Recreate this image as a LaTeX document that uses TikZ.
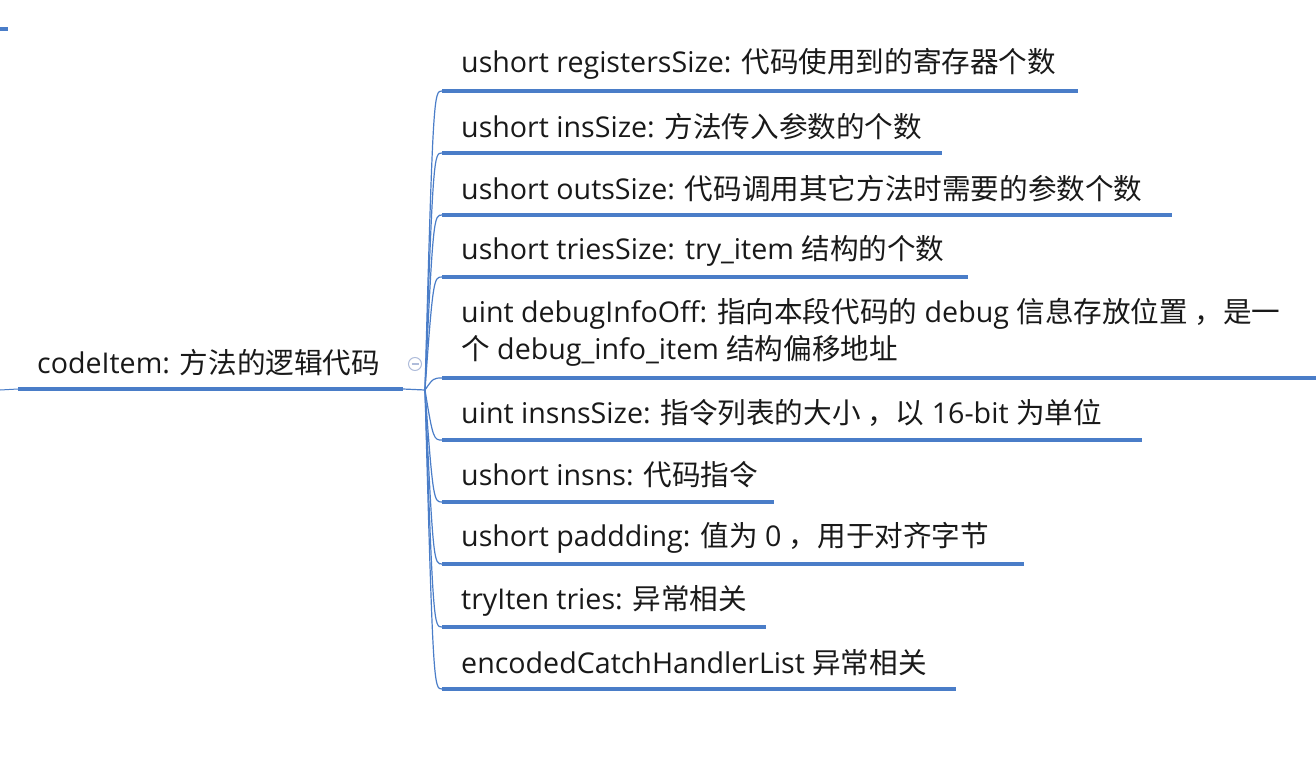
\documentclass[tikz,border=0pt]{standalone}
\usepackage{fontspec}
\setmainfont{Open Sans}
\newfontfamily\cjk{Noto Sans CJK SC}
\newcommand\zh[1]{{\cjk #1}}
\usetikzlibrary{calc}
\definecolor{mmblue}{RGB}{74,125,200}
\definecolor{mmlight}{RGB}{175,188,218}
\begin{document}
\begin{tikzpicture}[x=1pt,y=-1pt,
  txt/.style={anchor=west,inner sep=0pt,font=\fontsize{28.6}{37}\selectfont,text=black!90},
  uline/.style={draw=mmblue,line width=4pt},
  branch/.style={draw=mmblue,line width=1.2pt},
]
\useasboundingbox (0,0) rectangle (1316,778);
% stray marks at the left edge
\draw[mmblue,line width=4pt] (0,29) -- (8,29);
% parent
\node[txt] (p) at (37,363) {codeItem: \zh{方法的逻辑代码}};
\coordinate (lin) at (0,390);
\coordinate (ps) at (18,389);
\coordinate (pe) at (403,389);
\coordinate (o) at (425,390);
\draw[branch,line width=1pt] (lin) -- (ps);
\draw[uline] (ps) -- (pe);
\draw[branch] (pe) -- (o);
\node[circle,draw=mmlight,line width=1pt,minimum size=13pt,inner sep=0pt] (col) at (415,364) {};
\draw[mmlight,line width=1.2pt] ($(col)+(-3.5,0)$) -- ($(col)+(3.5,0)$);
% children
\foreach \i/\yu/\xe in {1/91/1078,2/153/942,3/215/1172,4/277/968,
  5/378/1316,6/440/1142,7/502/774,8/564/1024,9/627/766,10/689/956}{
  \coordinate (s\i) at (442,\yu);
  \coordinate (e\i) at (\xe,\yu);
  \draw[uline] (s\i) -- (e\i);
  \draw[branch] (o) .. controls ($(s\i)+(-9,0)$) and ($(s\i)+(-8,0)$) .. (s\i);
}
\node[txt] (c1) at (461,64) {ushort registersSize: \zh{代码使用到的寄存器个数}};
\node[txt] (c2) at (461,127) {ushort insSize: \zh{方法传入参数的个数}};
\node[txt] (c3) at (461,189) {ushort outsSize: \zh{代码调用其它方法时需要的参数个数}};
\node[txt] (c4) at (461,251) {ushort triesSize: try\_item \zh{结构的个数}};
\node[txt,align=left] (c5) at (461,332) {uint debugInfoOff: \zh{指向本段代码的} debug \zh{信息存放位置 ，是一}\\\zh{个} debug\_info\_item \zh{结构偏移地址}};
\node[txt] (c6) at (461,413) {uint insnsSize: \zh{指令列表的大小 ，以} 16-bit \zh{为单位}};
\node[txt] (c7) at (461,475) {ushort insns: \zh{代码指令}};
\node[txt] (c8) at (461,538) {ushort paddding: \zh{值为} 0 \zh{，用于对齐字节}};
\node[txt] (c9) at (461,601) {tryIten tries: \zh{异常相关}};
\node[txt] (c10) at (461,663) {encodedCatchHandlerList \zh{异常相关}};
\end{tikzpicture}
\end{document}
